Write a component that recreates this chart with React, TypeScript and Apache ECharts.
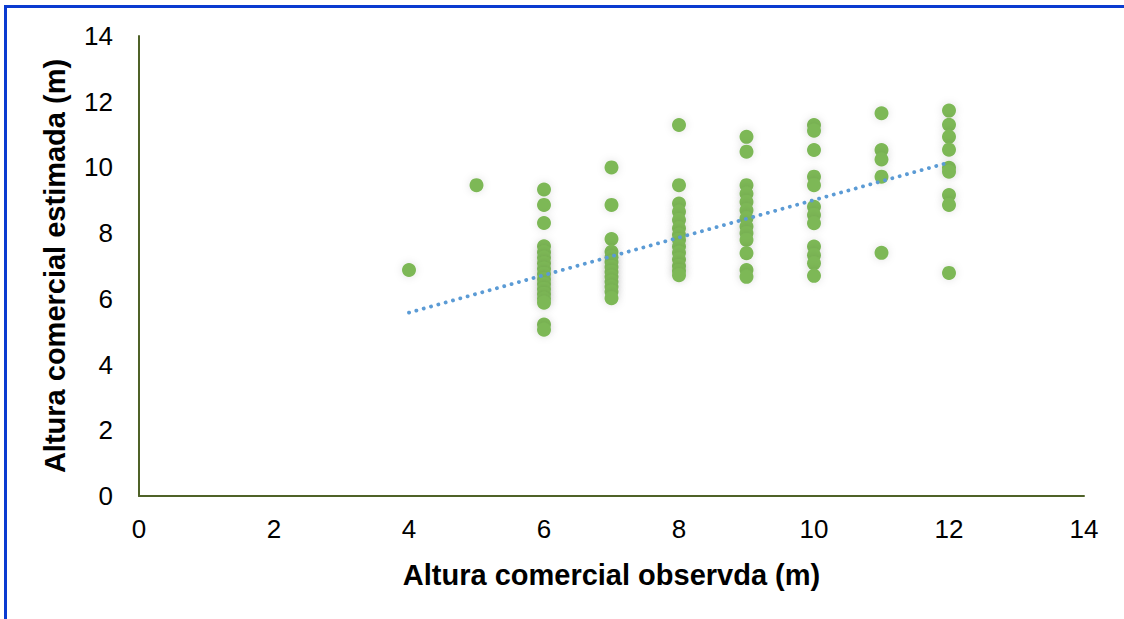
import React, { useEffect, useRef } from "react";
import * as echarts from "echarts";

// Observed height columns (m) and estimated values at each
const obsHeights = [4, 5, 6, 7, 8, 9, 10, 11, 12];
const est4 = [6.88];
const est5 = [9.46];
const est6 = [9.33, 8.86, 8.31, 7.6, 7.42, 7.25, 7.08, 6.92, 6.76, 6.6, 6.45, 6.3, 6.15, 6.0, 5.88, 5.22, 5.06];
const est7 = [10.0, 8.86, 7.82, 7.43, 7.27, 7.12, 6.97, 6.82, 6.67, 6.52, 6.37, 6.22, 6.02];
const est8 = [11.29, 9.46, 8.9, 8.65, 8.4, 8.15, 7.95, 7.79, 7.59, 7.4, 7.2, 7.0, 6.85, 6.72];
const est9 = [10.93, 10.48, 9.46, 9.2, 8.95, 8.7, 8.45, 8.2, 8.0, 7.79, 7.39, 6.88, 6.67];
const est10 = [11.29, 11.12, 10.53, 9.72, 9.46, 8.8, 8.55, 8.3, 7.59, 7.33, 7.08, 6.7];
const est11 = [11.65, 10.53, 10.24, 9.72, 7.4];
const est12 = [11.73, 11.3, 10.93, 10.54, 9.99, 9.87, 9.16, 8.86, 6.79];
const estColumns = [est4, est5, est6, est7, est8, est9, est10, est11, est12];

// Linear trend line endpoints
const trendX = [4, 12];
const trendY = [5.58, 10.15];

const xTicks = [0, 2, 4, 6, 8, 10, 12, 14];

export default function App() {
  const ref = useRef<HTMLDivElement>(null);
  useEffect(() => {
    if (!ref.current) return;
    const chart = echarts.init(ref.current, undefined, { renderer: "svg" });
    const points: number[][] = [];
    estColumns.forEach((col, i) => col.forEach((v) => points.push([obsHeights[i], v])));
    const font = 'Arial, "Liberation Sans", sans-serif';
    const axisLineColor = "#4F6228";
    chart.setOption({
      animation: false,
      backgroundColor: "#ffffff",
      grid: { left: 139, top: 36, right: 40, bottom: 123, containLabel: false },
      xAxis: {
        type: "value",
        min: xTicks[0],
        max: xTicks[xTicks.length - 1],
        interval: 2,
        name: "Altura comercial observda (m)",
        nameLocation: "middle",
        nameGap: 64,
        nameTextStyle: { fontFamily: font, fontSize: 29, fontWeight: "bold", color: "#000" },
        axisLine: { show: true, onZero: false, lineStyle: { color: axisLineColor, width: 2 } },
        axisTick: { show: false },
        splitLine: { show: false },
        axisLabel: { fontFamily: font, fontSize: 26, color: "#000", margin: 20 },
      },
      yAxis: {
        type: "value",
        min: 0,
        max: 14,
        interval: 2,
        name: "Altura comercial estimada (m)",
        nameLocation: "middle",
        nameGap: 70,
        nameTextStyle: { fontFamily: font, fontSize: 29, fontWeight: "bold", color: "#000" },
        axisLine: { show: true, onZero: false, lineStyle: { color: axisLineColor, width: 2 } },
        axisTick: { show: false },
        splitLine: { show: false },
        axisLabel: { fontFamily: font, fontSize: 26, color: "#000", margin: 26 },
      },
      graphic: [
        { type: "rect", shape: { x: 4, y: 5, width: 1120, height: 3 }, style: { fill: "#0A3BD0" }, silent: true },
        { type: "rect", shape: { x: 4, y: 5, width: 3, height: 614 }, style: { fill: "#0A3BD0" }, silent: true },
      ],
      series: [
        {
          type: "scatter",
          data: points,
          symbol: "circle",
          symbolSize: 14,
          itemStyle: {
            color: "#7DB857",
            opacity: 1,
            shadowBlur: 8,
            shadowColor: "rgba(0,0,0,0.12)",
          },
          z: 2,
        },
        {
          type: "line",
          data: trendX.map((x, i) => [x, trendY[i]]),
          showSymbol: false,
          symbol: "none",
          lineStyle: { color: "#5B9BD5", width: 3.8, type: [0.1, 7.5], cap: "round" },
          z: 3,
        },
      ],
    });
    return () => chart.dispose();
  }, []);
  return (
    <div
      ref={ref}
      style={{ position: "fixed", left: 0, top: 0, width: 1124, height: 619 }}
    />
  );
}
